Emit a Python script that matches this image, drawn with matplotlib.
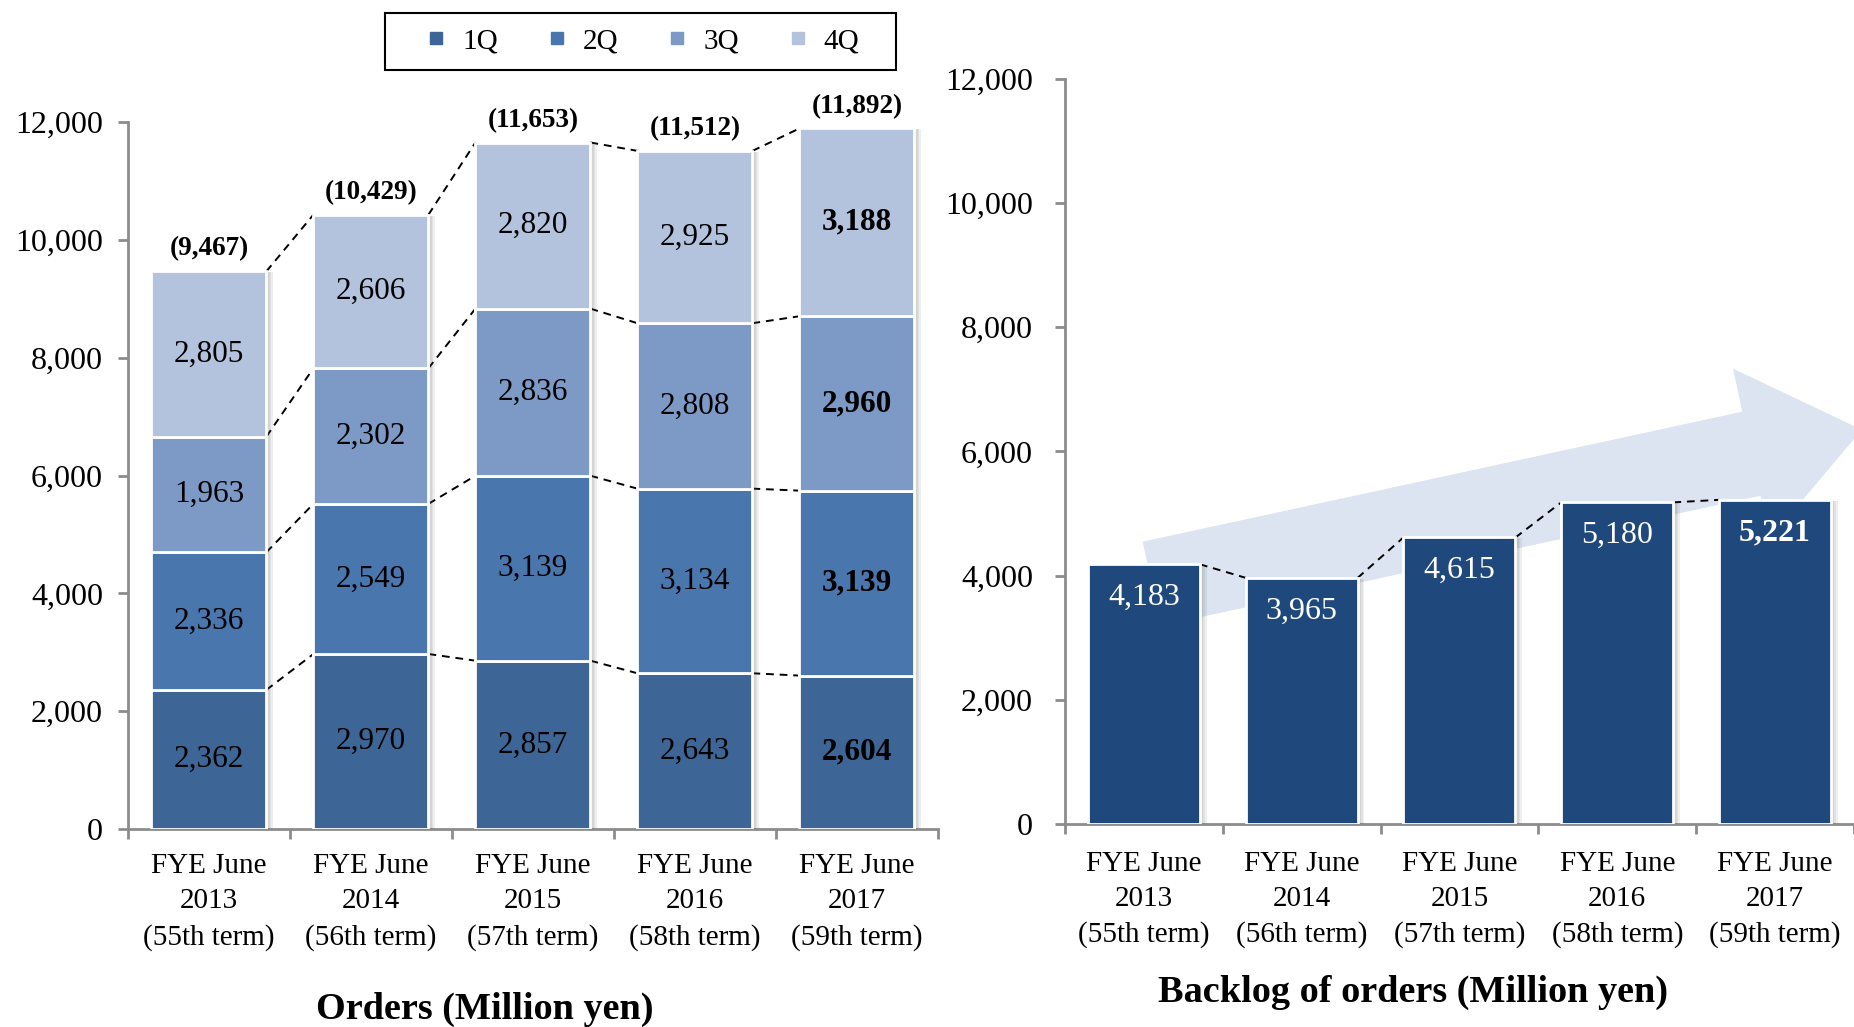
import numpy as np
import matplotlib.pyplot as plt
import matplotlib.patheffects as pe
from matplotlib.patches import Polygon, Rectangle
from matplotlib.lines import Line2D
from matplotlib.ticker import FuncFormatter

plt.rcParams['font.family'] = ['Liberation Serif', 'DejaVu Serif']

years = ['2013', '2014', '2015', '2016', '2017']
terms = ['55th', '56th', '57th', '58th', '59th']
labels = [f'FYE June\n{y}\n({t} term)' for y, t in zip(years, terms)]

# orders by quarter (million yen)
q1 = [2362, 2970, 2857, 2643, 2604]
q2 = [2336, 2549, 3139, 3134, 3139]
q3 = [1963, 2302, 2836, 2808, 2960]
q4 = [2805, 2606, 2820, 2925, 3188]
totals = [9467, 10429, 11653, 11512, 11892]
quarters = ['1Q', '2Q', '3Q', '4Q']

# backlog of orders (million yen)
backlog = [4183, 3965, 4615, 5180, 5221]

colors = ['#3D6595', '#4A76AE', '#7D9AC6', '#B3C3DE']
backlog_color = '#1F497D'
axis_grey = '#8c8c8c'

fig = plt.figure(figsize=(18.54, 10.27), dpi=100)
ax1 = fig.add_axes([0.0690, 0.1928, 0.4369, 0.6884])
ax2 = fig.add_axes([0.5744, 0.1977, 1 - 0.5744, 0.7254])

x = np.arange(len(years))
w = 0.71
# soft drop shadow on the right side of the bars
shadow = [pe.SimplePatchShadow(offset=(k, -0.7), shadow_rgbFace='#555555', alpha=0.09)
          for k in (1.2, 2.4, 3.6, 4.8)] + [pe.Normal()]
dash = (0, (4, 3))


def fmt(v, pos=None):
    return f'{int(v):,}'


def style(ax, xmax, xpad, ypad):
    ax.set_xlim(-0.5, xmax)
    ax.set_ylim(0, 12000)
    ax.set_yticks(range(0, 12001, 2000))
    ax.yaxis.set_major_formatter(FuncFormatter(fmt))
    ax.set_xticks(x)
    ax.set_xticklabels(labels, fontsize=21, linespacing=1.45)
    ax.set_xticks(np.arange(-0.5, 5, 1), minor=True)
    ax.tick_params(axis='x', which='major', length=0, pad=xpad)
    ax.tick_params(axis='x', which='minor', length=7, width=2, color=axis_grey)
    ax.tick_params(axis='y', length=7, width=2, color=axis_grey, labelsize=23, pad=ypad)
    for s in ['top', 'right']:
        ax.spines[s].set_visible(False)
    for s in ['left', 'bottom']:
        ax.spines[s].set_color(axis_grey)
        ax.spines[s].set_linewidth(2)


style(ax1, 4.5, 17.5, 11)
style(ax2, (1854 - 1065) / 158.5 - 0.5, 19.5, 16)

# --- orders: stacked bars ---
bottom = np.zeros(len(x))
levels = []
for vals, c in zip([q1, q2, q3, q4], colors):
    vals = np.array(vals)
    ax1.bar(x, vals, w, bottom=bottom, color=c, edgecolor='white', linewidth=2,
            path_effects=shadow, zorder=3)
    for j in range(len(x)):
        ax1.text(x[j], bottom[j] + vals[j] / 2, f'{vals[j]:,}', ha='center', va='center',
                 fontsize=22.5, fontweight='bold' if j == 4 else 'normal', zorder=5)
    bottom = bottom + vals
    levels.append(bottom.copy())

for lvl in levels:
    for j in range(len(x) - 1):
        ax1.plot([x[j] + w / 2, x[j + 1] - w / 2], [lvl[j], lvl[j + 1]],
                 ls=dash, color='black', lw=1.4, zorder=2)

for j, t in enumerate(totals):
    ax1.annotate(f'({t:,})', (x[j], bottom[j]), xytext=(0, 7), textcoords='offset points',
                 ha='center', va='bottom', fontsize=19.5, fontweight='bold')

# --- backlog: trend arrow behind the bars ---
p0 = ax2.transData.transform((0.05, 3870))
p1 = ax2.transData.transform((4.55, 6350))
d = p1 - p0
L = np.hypot(*d)
u = d / L
n = np.array([-u[1], u[0]])
shaft, head, head_len = 43, 87, 113
neck = p0 + (L - head_len) * u
pts = [p0 + shaft * n, neck + shaft * n, neck + head * n, p1,
       neck - head * n, neck - shaft * n, p0 - shaft * n]
ax2.add_patch(Polygon(ax2.transData.inverted().transform(pts), closed=True,
                      facecolor='#DCE4F1', edgecolor='none', zorder=1, clip_on=False))

ax2.bar(x, backlog, w, color=backlog_color, edgecolor='white', linewidth=2,
        path_effects=shadow, zorder=3)
for j, v in enumerate(backlog):
    ax2.annotate(f'{v:,}', (x[j], v), xytext=(0, -24), textcoords='offset points',
                 ha='center', va='center', color='white', fontsize=23,
                 fontweight='bold' if j == 4 else 'normal', zorder=5)
for j in range(len(x) - 1):
    ax2.plot([x[j] + w / 2, x[j + 1] - w / 2], [backlog[j], backlog[j + 1]],
             ls=dash, color='black', lw=1.4, zorder=2)

# legend in a wide box above the orders chart
handles = [Line2D([], [], marker='s', ls='none', markersize=9, color=c) for c in colors]
fig.legend(handles, quarters, loc='center', bbox_to_anchor=(0.3459, 0.9596), ncol=4,
           fontsize=21, handlelength=0.9, handletextpad=0.45, columnspacing=1.56,
           frameon=False)
fig.patches.append(Rectangle((385 / 1854, 1 - 70 / 1027), 511 / 1854, 57 / 1027,
                             transform=fig.transFigure, facecolor='none',
                             edgecolor='black', linewidth=1.5))

fig.text(485 / 1854, 1 - 1009 / 1027, 'Orders (Million yen)', ha='center', va='center',
         fontsize=27.5, fontweight='bold')
fig.text(1413 / 1854, 1 - 992 / 1027, 'Backlog of orders (Million yen)', ha='center',
         va='center', fontsize=27.5, fontweight='bold')

fig.savefig('out.png', dpi=100)
